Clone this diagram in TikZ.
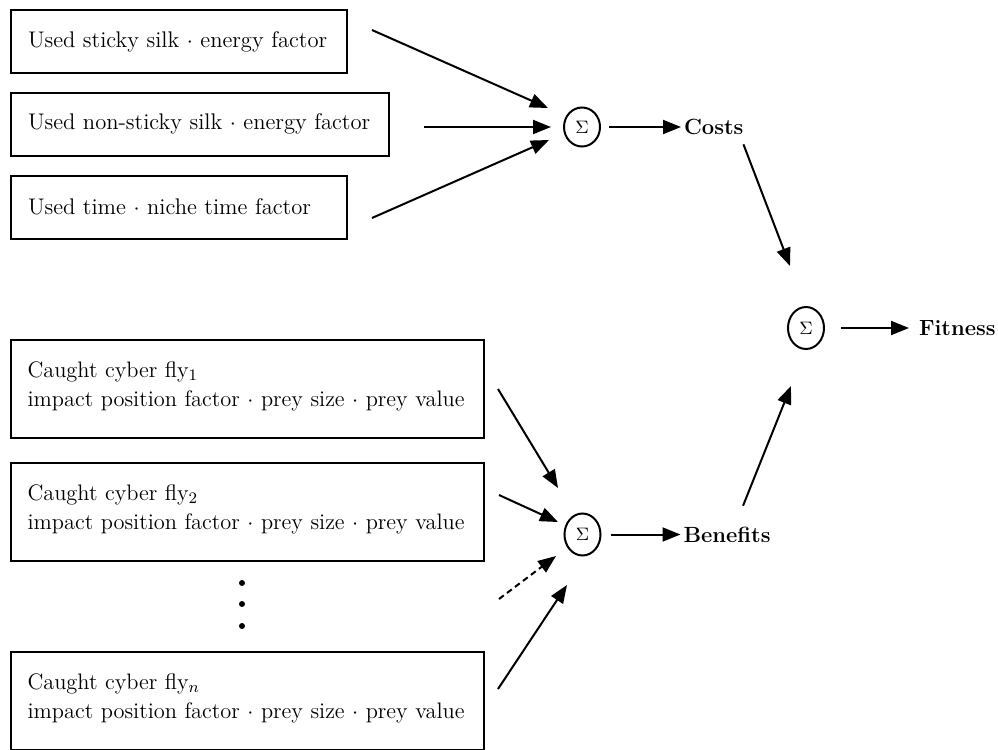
\documentclass[tikz,border=0pt]{standalone}
\usepackage{tikz}
\usetikzlibrary{arrows.meta,positioning,shapes.geometric}

\begin{document}
\begin{tikzpicture}[x=0.5pt,y=-0.5pt,line width=1pt,>={Triangle[length=9pt,width=7pt]},
  every node/.style={font=\fontsize{11.3}{13}\selectfont},
  costbox/.style={draw,align=left,inner xsep=8.5pt,minimum height=31.5pt,anchor=west},
  flybox/.style={draw,align=left,text width=220pt,inner xsep=8.25pt,inner ysep=5pt,
    text height=13.5pt,text depth=25.5pt,anchor=north west,
    font=\fontsize{11.2}{14.5}\selectfont},
  sum/.style={draw,ellipse,inner sep=0pt,minimum width=18pt,minimum height=21pt,
    font=\fontsize{9}{10}\selectfont},
  result/.style={inner sep=1pt,font=\fontsize{11}{13}\selectfont\bfseries}]
\useasboundingbox (0,0) rectangle (998,750);

% costs
\node[costbox,text width=151pt] (silk) at (10,41.5) {Used sticky silk $\cdot$ energy factor};
\node[costbox,text width=172pt] (nonsilk) at (10,124) {Used non-sticky silk $\cdot$ energy factor};
\node[costbox,text width=151pt] (time) at (10,207) {Used time $\cdot$ niche time factor};
\node[sum,minimum height=19.5pt] (sumcost) at (582,127) {$\Sigma$};
\node[result] (costs) [right=40pt of sumcost] {Costs};

% fitness
\node[sum] (sumfit) at (806,328) {$\Sigma$};
\node[result] (fitness) [right=45.5pt of sumfit] {Fitness};

% benefits
\node[flybox] (fly1) at (10,339) {Caught cyber fly$_1$\\impact position factor $\cdot$ prey size $\cdot$ prey value};
\node[flybox] (fly2) at (10,462) {Caught cyber fly$_2$\\impact position factor $\cdot$ prey size $\cdot$ prey value};
\node[flybox] (flyn) at (10,651) {Caught cyber fly$_n$\\impact position factor $\cdot$ prey size $\cdot$ prey value};
\node[sum] (sumben) at (582.5,534.5) {$\Sigma$};
\node[result] (benefits) [right=39.5pt of sumben] {Benefits};

\foreach \y in {583,604,626}
  \fill (242,\y) circle (1.5pt);

\path[->]
([shift={(24,-11.5)}]silk.east) edge ([shift={(-34,-19)}]sumcost.center)
([shift={(34,3)}]nonsilk.east) edge ([shift={(-31,0)}]sumcost.center)
([shift={(24,11)}]time.east) edge ([shift={(-33,13)}]sumcost.center)
(sumcost) edge [shorten <=4pt] (costs)
([shift={(-3,6.5)}]costs.south east) edge ([shift={(-16,-62)}]sumfit.center)

(sumfit) edge [shorten <=8pt,shorten >=3.5pt] (fitness)

([shift={(13,0)}]fly1.east) edge ([shift={(-24.5,-46.5)}]sumben.center)
([shift={(14,-17)}]fly2.east) edge ([shift={(-24.5,-12.5)}]sumben.center)
([shift={(14,37)}]fly2.south east) edge [dash pattern=on 3pt off 2pt] ([shift={(-26.5,21.5)}]sumben.center)
([shift={(13,-12)}]flyn.east) edge ([shift={(-15.5,50.5)}]sumben.center)
(sumben) edge [shorten <=4.5pt] (benefits)
([shift={(16,-18)}]benefits.north) edge ([shift={(-15,58)}]sumfit.center)
;
\end{tikzpicture}
\end{document}
